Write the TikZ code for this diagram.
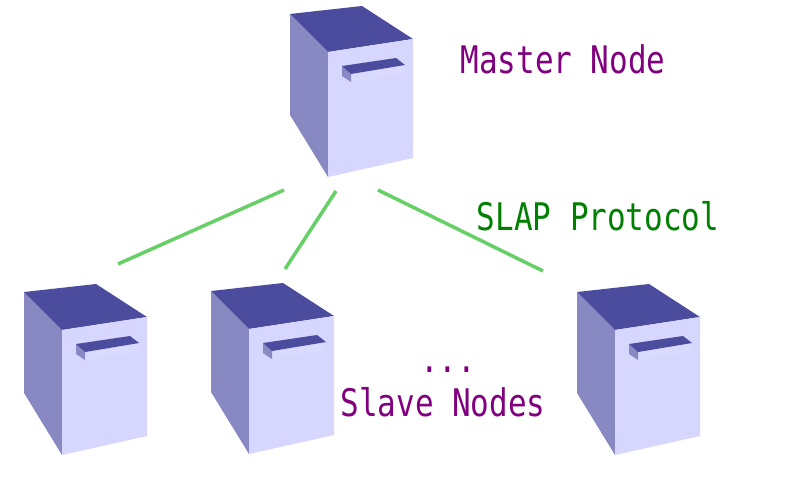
\documentclass[tikz,border=0pt]{standalone}
\usepackage{fontspec}
\setmonofont[FakeStretch=0.815]{DejaVu Sans Mono}
\usepackage{tikz}

\definecolor{topblue}{HTML}{4C4C9E}
\definecolor{sideblue}{HTML}{8888C2}
\definecolor{frontblue}{HTML}{D6D6FF}
\definecolor{plateblue}{HTML}{DADAFF}
\definecolor{linkgreen}{HTML}{66D066}
\definecolor{labelpurple}{HTML}{800080}
\definecolor{labelgreen}{HTML}{008000}

\tikzset{
  link/.style={draw=linkgreen, line width=3.5pt},
  rolelabel/.style={text=labelpurple, inner sep=0pt, font=\fontsize{38pt}{38pt}\ttfamily},
  protolabel/.style={text=labelgreen, inner sep=0pt, font=\fontsize{38pt}{38pt}\ttfamily},
  server/.pic={
    \fill[sideblue] (0,0) -- (38,38) -- (38,163) -- (0,101) -- cycle;
    \fill[topblue] (0,0) -- (72,-8) -- (123,25) -- (38,38) -- cycle;
    \fill[frontblue] (38,38) -- (123,25) -- (123,144) -- (38,163) -- cycle;
    \fill[plateblue] (61,60) -- (115,51) -- (115,59) -- (61,68) -- cycle;
    \fill[sideblue] (52,52) -- (61,60) -- (61,68) -- (52,62) -- cycle;
    \fill[topblue] (52,52) -- (106,44) -- (115,51) -- (61,60) -- cycle;
  }
}

\begin{document}
\begin{tikzpicture}[x=1pt, y=-1pt]
  \useasboundingbox (0,0) rectangle (800,500);
  \fill[white] (0,0) rectangle (800,500);

  \pic at (290,14) {server};
  \pic at (24,292) {server};
  \pic at (211,291) {server};
  \pic at (577,292) {server};

  \coordinate (masterleft) at (284,190);
  \coordinate (mastermid) at (336,191);
  \coordinate (masterright) at (378,190);
  \coordinate (slaveone) at (118,264);
  \coordinate (slavetwo) at (285,269);
  \coordinate (slavethree) at (543,271);

  \draw[link] (masterleft) -- (slaveone);
  \draw[link] (mastermid) -- (slavetwo);
  \draw[link] (masterright) -- (slavethree);

  \node[rolelabel] (masterlabel) at (563,59) {Master Node};
  \node[protolabel] (protolabel) at (598,216) {SLAP Protocol};
  \node[rolelabel] (dotslabel) at (448,370) {...};
  \node[rolelabel] (slavelabel) at (443,402) {Slave Nodes};
\end{tikzpicture}
\end{document}
